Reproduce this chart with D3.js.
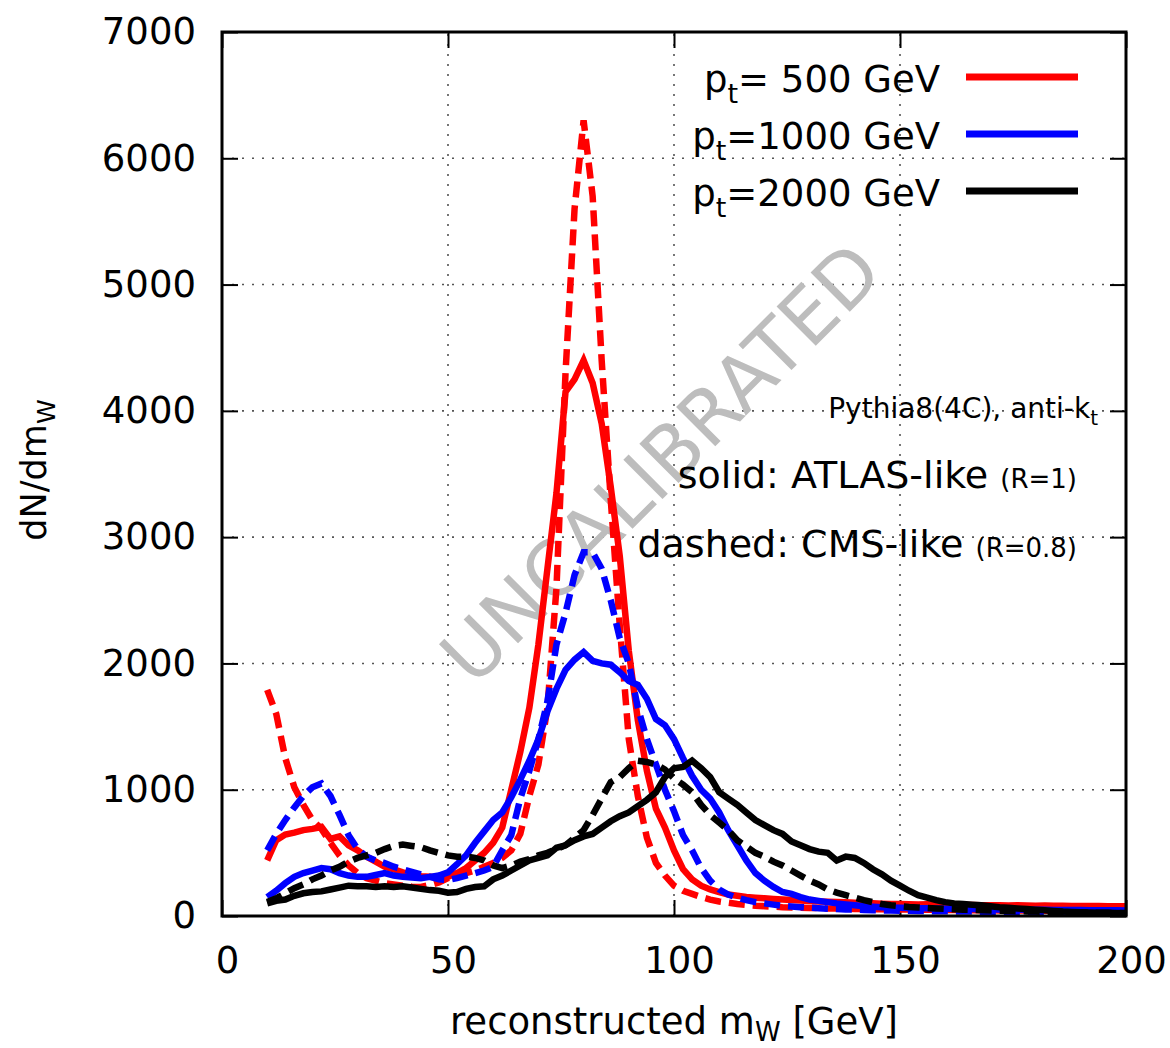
<!DOCTYPE html>
<html><head><meta charset="utf-8">
<script src="https://cdn.jsdelivr.net/npm/d3@7"></script>
<style>
body{margin:0;background:#fff;}
text{font-family:"DejaVu Sans",sans-serif;}
</style></head>
<body><svg id="c" width="1170" height="1048"></svg>
<script>
const mass = [10,12,14,16,18,20,22,24,26,28,30,32,34,36,38,40,42,44,46,48,
50,52,54,56,58,60,62,64,66,68,70,72,74,76,78,80,82,84,86,88,
90,92,94,96,98,100,102,104,106,108,110,112,114,116,118,120,122,124,126,128,
130,132,134,136,138,140,142,144,146,148,150,152,154,156,158,160,162,164,166,168,
170,172,174,176,178,180,182,184,186,188,190,192,194,196,198,200];

const red_solid = [440,600,645,660,680,690,705,610,630,560,
520,470,430,390,370,345,330,315,310,305,
310,340,380,440,500,580,700,1000,1300,1650,
2150,2750,3350,4150,4250,4400,4220,3900,3400,2850,
2100,1550,1150,850,700,520,370,290,240,210,
190,170,160,150,145,140,135,130,126,122,
118,115,112,110,108,105,103,100,98,96,
95,93,92,93,90,89,88,88,87,86,
86,85,84,85,83,82,83,81,81,80,
80,79,79,78,78,77];

const red_dashed = [1790,1600,1250,1020,880,760,690,580,480,400,
340,300,280,260,250,240,232,230,245,265,
300,320,340,360,390,420,460,520,650,950,
1200,1650,2600,4300,5600,6300,5700,4400,3300,2300,
1400,950,620,420,320,240,200,175,150,130,
115,105,95,88,82,78,74,70,68,66,
64,62,60,59,58,56,55,54,53,52,
52,51,50,49,49,48,47,47,46,46,
45,44,44,43,43,42,42,41,41,40,
40,39,39,38,38,37];

const blue_solid = [150,200,260,310,340,360,380,370,340,320,
310,310,325,340,320,310,305,300,310,320,
345,410,480,580,670,760,820,940,1080,1230,
1400,1620,1800,1950,2030,2090,2020,2000,1990,1930,
1860,1830,1720,1560,1510,1400,1250,1110,1000,930,
820,680,560,440,340,280,230,190,175,150,
130,120,110,100,92,85,78,74,70,68,
66,64,62,61,60,58,57,56,55,54,
53,52,52,51,50,50,49,48,48,47,
47,46,46,45,45,44];

const blue_dashed = [520,650,760,860,950,1020,1050,950,800,640,
530,470,440,420,390,370,350,330,310,290,
285,300,320,340,360,390,520,640,930,1150,
1400,1700,2150,2400,2700,2880,2880,2750,2500,2200,
2000,1650,1400,1200,1000,830,640,520,380,280,
210,170,145,125,110,100,90,80,75,70,
66,62,58,55,52,50,48,46,44,43,
42,41,40,39,38,37,36,36,35,34,
34,33,32,32,31,31,30,30,29,29,
28,28,27,27,26,26];

const black_solid = [100,120,130,160,180,190,195,210,225,240,
235,235,230,235,230,235,225,215,205,200,
185,190,215,230,235,290,320,360,400,440,
460,480,540,560,600,630,650,700,750,790,
820,870,920,980,1100,1170,1180,1230,1170,1100,
980,930,880,820,760,720,680,650,590,560,
530,510,500,440,470,460,420,370,330,280,
240,200,165,145,125,110,100,95,90,85,
78,70,65,60,55,50,45,40,35,32,
30,28,26,25,24,22];

const black_dashed = [110,140,180,220,250,290,320,360,390,430,
460,480,500,530,555,565,555,545,520,500,
480,470,470,460,440,400,380,400,430,450,
480,500,530,560,620,680,800,930,1060,1100,
1170,1230,1220,1200,1160,1090,1040,980,880,800,
740,680,600,550,500,470,430,400,360,320,
280,250,210,185,165,145,125,110,95,85,
78,72,68,64,60,56,53,50,48,46,
44,42,40,38,36,35,34,33,31,30,
29,27,26,25,24,23];

const xTicks = [0,50,100,150,200];
const yTicks = [0,1000,2000,3000,4000,5000,6000,7000];
const legendLabels = [{n:"= 500 GeV"},{n:"=1000 GeV"},{n:"=2000 GeV"}];
const seriesColors = ["#ff0000","#0000ff","#000000"];

const svg = d3.select("#c");
const L=222, R=1126, T=32, B=916;
const x = d3.scaleLinear().domain([0,200]).range([L,R]);
const y = d3.scaleLinear().domain([0,7000]).range([B,T]);

// grid
const grid = svg.append("g").attr("stroke","#555").attr("stroke-width",1.6).attr("stroke-dasharray","2,8");
[50,100,150].forEach(v=>grid.append("line").attr("x1",x(v)).attr("x2",x(v)).attr("y1",B).attr("y2",T));
[1000,2000,3000,4000,5000,6000].forEach(v=>grid.append("line").attr("x1",L).attr("x2",R).attr("y1",y(v)).attr("y2",y(v)));

// watermark
svg.append("text").attr("transform",`translate(661,463) rotate(-45)`)
  .attr("text-anchor","middle").attr("dominant-baseline","central")
  .attr("font-size",76).attr("fill","#bdbdbd").text("UNCALIBRATED");

// axes
const ax = svg.append("g");
const styleAxis = g => { g.select(".domain").remove(); g.selectAll(".tick line").attr("stroke","#000").attr("stroke-width",2); g.selectAll("text").attr("font-size",37).attr("fill","#000").style("font-family","DejaVu Sans"); };
ax.append("g").attr("transform",`translate(${L},0)`).call(d3.axisLeft(y).tickValues(yTicks).tickSize(-16).tickPadding(26).tickFormat(d3.format("d"))).call(styleAxis);
ax.append("g").attr("transform",`translate(${R},0)`).call(d3.axisRight(y).tickValues(yTicks).tickSize(-16).tickFormat("")).call(styleAxis);
ax.append("g").attr("transform",`translate(0,${B})`).call(d3.axisBottom(x).tickValues(xTicks).tickSize(-16).tickPadding(31).tickFormat(d3.format("d"))).call(styleAxis)
  .selectAll("text").attr("dx",5);
ax.append("g").attr("transform",`translate(0,${T})`).call(d3.axisTop(x).tickValues(xTicks).tickSize(-16).tickFormat("")).call(styleAxis);

// lines
const line = d3.line().x((d,i)=>x(mass[i])).y(d=>y(d));
const series = [
  {v:red_solid,c:seriesColors[0],dash:null},
  {v:red_dashed,c:seriesColors[0],dash:"16,8"},
  {v:blue_solid,c:seriesColors[1],dash:null},
  {v:blue_dashed,c:seriesColors[1],dash:"16,8"},
  {v:black_solid,c:seriesColors[2],dash:null},
  {v:black_dashed,c:seriesColors[2],dash:"16,8"}
];
svg.append("g").selectAll("path").data(series).join("path")
  .attr("d",d=>line(d.v)).attr("fill","none").attr("stroke",d=>d.c)
  .attr("stroke-width",6.5).attr("stroke-linejoin","miter").attr("stroke-dasharray",d=>d.dash);

// frame
svg.append("rect").attr("x",L).attr("y",T).attr("width",R-L).attr("height",B-T)
  .attr("fill","none").attr("stroke","#000").attr("stroke-width",3);

// legend
legendLabels.forEach((d,i)=>{
  const yb = 92 + i*57;
  const t = svg.append("text").attr("x",940).attr("y",yb).attr("text-anchor","end").attr("font-size",37);
  t.append("tspan").text("p");
  t.append("tspan").attr("font-size",27).attr("dy",11).text("t");
  t.append("tspan").attr("dy",-11).text(d.n);
  svg.append("line").attr("x1",966).attr("x2",1078).attr("y1",yb-15).attr("y2",yb-15)
    .attr("stroke",seriesColors[i]).attr("stroke-width",7);
});

// annotations
const a1 = svg.append("text").attr("x",1098).attr("y",418).attr("text-anchor","end").attr("font-size",28);
a1.append("tspan").text("Pythia8(4C), anti-k");
a1.append("tspan").attr("font-size",20).attr("dy",7).text("t");

const a2 = svg.append("text").attr("x",1077).attr("y",488).attr("text-anchor","end").attr("font-size",38);
a2.append("tspan").text("solid: ATLAS-like ");
a2.append("tspan").attr("font-size",26).text("(R=1)");
const a3 = svg.append("text").attr("x",1077).attr("y",557).attr("text-anchor","end").attr("font-size",38);
a3.append("tspan").text("dashed: CMS-like ");
a3.append("tspan").attr("font-size",26).text("(R=0.8)");

// axis titles
const xt = svg.append("text").attr("x",674).attr("y",1034).attr("text-anchor","middle").attr("font-size",37);
xt.append("tspan").text("reconstructed m");
xt.append("tspan").attr("font-size",26).attr("dy",7).text("W");
xt.append("tspan").attr("dy",-7).text(" [GeV]");

const yt = svg.append("text").attr("transform","translate(46,470) rotate(-90)").attr("text-anchor","middle").attr("font-size",35);
yt.append("tspan").text("dN/dm");
yt.append("tspan").attr("font-size",25).attr("dy",9).text("W");
</script></body></html>
